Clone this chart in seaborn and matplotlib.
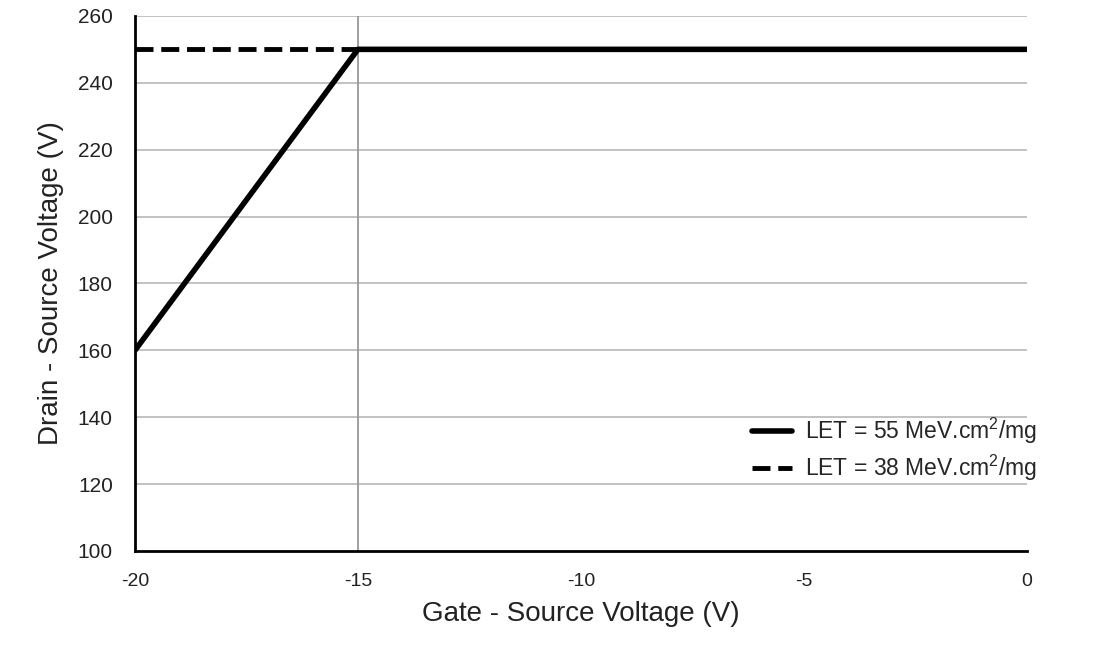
import matplotlib
matplotlib.use("Agg")
import matplotlib.pyplot as plt
import seaborn as sns
import pandas as pd

# Data
let55_vgs = [-20, -15, 0]
let55_vds = [160, 250, 250]
let38_vgs = [-20, -15]
let38_vds = [250, 250]
series_labels = ["LET = 55 MeV.cm$^2$/mg", "LET = 38 MeV.cm$^2$/mg"]
x_ticks = [-20, -15, -10, -5, 0]
y_ticks = [100, 120, 140, 160, 180, 200, 220, 240, 260]

sns.set_style("white")
plt.rcParams['font.family'] = ['Liberation Sans', 'DejaVu Sans']
plt.rcParams['mathtext.fontset'] = 'custom'
plt.rcParams['mathtext.rm'] = 'Liberation Sans'

df55 = pd.DataFrame({"vgs": let55_vgs, "vds": let55_vds})
df38 = pd.DataFrame({"vgs": let38_vgs, "vds": let38_vds})

fig = plt.figure(figsize=(11.1, 6.63), dpi=100)
ax = fig.add_axes([0.1216, 0.169, 0.8034, 0.807])

for y in y_ticks[1:]:
    ax.axhline(y, color="#bdbdbd", lw=1.3, zorder=0)
ax.axvline(-15, color="#999999", lw=1.3, zorder=0)

sns.lineplot(data=df38, x="vgs", y="vds", ax=ax, color="black", lw=3.5,
             linestyle=(0, (3.7, 1.6)), label=series_labels[1], sort=False)
sns.lineplot(data=df55, x="vgs", y="vds", ax=ax, color="black", lw=4,
             label=series_labels[0], sort=False)

ax.set_xlim(-20, 0)
ax.set_ylim(100, 260)
ax.set_xticks(x_ticks)
ax.set_yticks(y_ticks)
ax.set_xticklabels([str(v) for v in x_ticks], fontsize=14, color="#222222")
ax.set_yticklabels([str(v) for v in y_ticks], fontsize=15, color="#222222")
ax.tick_params(axis="x", length=0, pad=16)
ax.tick_params(axis="y", length=0, pad=16)

for s in ["top", "right"]:
    ax.spines[s].set_visible(False)
for s in ["left", "bottom"]:
    ax.spines[s].set_color("black")
    ax.spines[s].set_linewidth(2)

ax.set_xlabel("Gate - Source Voltage (V)", fontsize=20, color="#222222", labelpad=8)
ax.set_ylabel("Drain - Source Voltage (V)", fontsize=20, color="#222222", labelpad=10)

handles, labels = ax.get_legend_handles_labels()
order = [1, 0]
ax.legend([handles[i] for i in order], [labels[i] for i in order],
          loc="upper left", bbox_to_anchor=(752 / 1110, 1 - 416 / 663),
          bbox_transform=fig.transFigure, borderpad=0, borderaxespad=0,
          frameon=False, fontsize=16.5, handlelength=1.75,
          handletextpad=0.55, labelspacing=0.3)

fig.savefig("out.png", dpi=100)
